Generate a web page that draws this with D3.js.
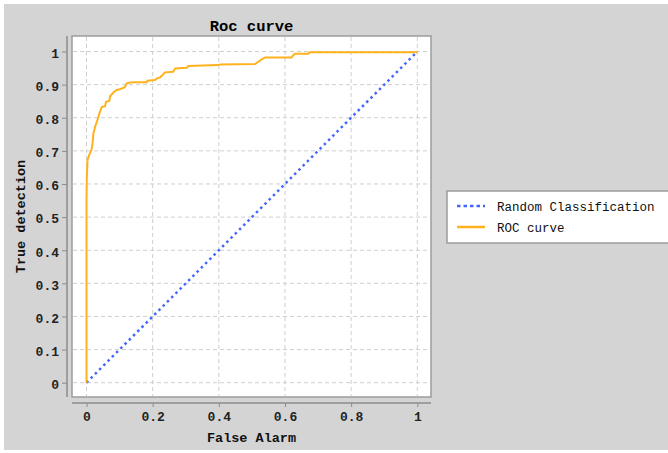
<!DOCTYPE html>
<html>
<head>
<meta charset="utf-8">
<script src="https://d3js.org/d3.v7.min.js"></script>
<style>
  body { margin: 0; background: #fff; }
  svg text { font-family: "Liberation Mono", "DejaVu Sans Mono", monospace; }
</style>
</head>
<body>
<div id="chart"></div>
<script>
// roc points
var falseAlarm = [0, 0, 0.001, 0.003, 0.008, 0.015, 0.018, 0.021, 0.026, 0.033, 0.039, 0.046, 0.056, 0.059, 0.069, 0.071, 0.081, 0.091, 0.101, 0.116, 0.121, 0.137, 0.182, 0.184, 0.207, 0.212, 0.222, 0.230, 0.237, 0.262, 0.268, 0.303, 0.308, 0.398, 0.404, 0.510, 0.519, 0.530, 0.540, 0.620, 0.625, 0.630, 0.671, 0.674, 1.0];
var trueDetection = [0, 0.55, 0.62, 0.672, 0.687, 0.703, 0.72, 0.753, 0.773, 0.793, 0.813, 0.832, 0.835, 0.848, 0.851, 0.864, 0.876, 0.884, 0.886, 0.892, 0.904, 0.907, 0.907, 0.912, 0.914, 0.918, 0.922, 0.929, 0.937, 0.939, 0.949, 0.951, 0.956, 0.959, 0.961, 0.962, 0.969, 0.976, 0.982, 0.982, 0.989, 0.993, 0.993, 0.998, 0.998];
var randomX = [0, 1];
var randomY = [0, 1];
var xTicks = [0, 0.2, 0.4, 0.6, 0.8, 1];
var yTicks = [0, 0.1, 0.2, 0.3, 0.4, 0.5, 0.6, 0.7, 0.8, 0.9, 1];
var seriesNames = ["Random Classification", "ROC curve"];
var seriesColors = ["#4466ff", "#ffb21e"];

var width = 668, height = 453;
var box = {left: 72, top: 36, right: 431, bottom: 397};

var svg = d3.select("#chart").append("svg")
  .attr("width", width)
  .attr("height", height);

svg.append("rect")
  .attr("x", 4).attr("y", 4)
  .attr("width", width - 4).attr("height", height - 7)
  .attr("fill", "#d4d4d4");

var x = d3.scaleLinear().domain([0, 1]).range([86.5, 417.3]);
var y = d3.scaleLinear().domain([0, 1]).range([382.7, 51.5]);

/* plot area */
svg.append("rect")
  .attr("x", box.left).attr("y", box.top)
  .attr("width", box.right - box.left).attr("height", box.bottom - box.top)
  .attr("fill", "#fff")
  .attr("stroke", "#9c9c9c")
  .attr("stroke-width", 1.5);

var grid = svg.append("g")
  .attr("stroke", "#cfcfcf")
  .attr("stroke-dasharray", "4,3");
grid.selectAll(".gx").data(xTicks).enter().append("line")
  .attr("x1", function(d) { return x(d); })
  .attr("x2", function(d) { return x(d); })
  .attr("y1", box.top + 1).attr("y2", box.bottom - 1);
grid.selectAll(".gy").data(yTicks).enter().append("line")
  .attr("y1", function(d) { return y(d); })
  .attr("y2", function(d) { return y(d); })
  .attr("x1", box.left + 1).attr("x2", box.right - 1);

// axes, offset from the plot box like the original
var fmt = d3.format(".1~f");
var yAxis = svg.append("g")
  .attr("transform", "translate(67,0)")
  .call(d3.axisLeft(y).tickValues(yTicks).tickFormat(fmt).tickSize(5).tickPadding(3));
var xAxis = svg.append("g")
  .attr("transform", "translate(0,403)")
  .call(d3.axisBottom(x).tickValues(xTicks).tickFormat(fmt).tickSize(4).tickPadding(5));

[yAxis, xAxis].forEach(function(a) {
  a.select(".domain").remove();
  a.selectAll(".tick line").attr("stroke", "#8c8c8c");
  a.selectAll("text")
    .attr("fill", "#222")
    .style("font-size", "13px")
    .style("font-weight", "bold");
});
yAxis.selectAll("text").attr("dy", "0.45em");

svg.append("line")
  .attr("x1", 67).attr("x2", 67)
  .attr("y1", box.top).attr("y2", box.bottom)
  .attr("stroke", "#8c8c8c").attr("stroke-width", 1.5);
svg.append("line")
  .attr("x1", box.left).attr("x2", box.right)
  .attr("y1", 403).attr("y2", 403)
  .attr("stroke", "#8c8c8c").attr("stroke-width", 1.5);

/* lines */
var line = d3.line()
  .x(function(d) { return x(d[0]); })
  .y(function(d) { return y(d[1]); });

svg.append("path")
  .datum(d3.zip(randomX, randomY))
  .attr("d", line)
  .attr("fill", "none")
  .attr("stroke", seriesColors[0])
  .attr("stroke-width", 2.5)
  .attr("stroke-dasharray", "2.5,3.5");

svg.append("path")
  .datum(d3.zip(falseAlarm, trueDetection))
  .attr("d", line)
  .attr("fill", "none")
  .attr("stroke", seriesColors[1])
  .attr("stroke-width", 2);

/* titles */
svg.append("text")
  .attr("x", (box.left + box.right) / 2)
  .attr("y", 31)
  .attr("text-anchor", "middle")
  .style("font-size", "15.5px")
  .style("font-weight", "bold")
  .text("Roc curve");

svg.append("text")
  .attr("x", (box.left + box.right) / 2)
  .attr("y", 442)
  .attr("text-anchor", "middle")
  .attr("fill", "#111")
  .style("font-size", "13.5px")
  .style("font-weight", "bold")
  .text("False Alarm");

svg.append("text")
  .attr("transform", "translate(24.5," + (box.top + box.bottom) / 2 + ") rotate(-90)")
  .attr("text-anchor", "middle")
  .attr("fill", "#111")
  .style("font-size", "13.5px")
  .style("font-weight", "bold")
  .text("True detection");

/* legend */
var legend = svg.append("g").attr("transform", "translate(447,191)");
legend.append("rect")
  .attr("width", 240).attr("height", 52)
  .attr("fill", "#fff")
  .attr("stroke", "#9c9c9c")
  .attr("stroke-width", 1.5);

var item = legend.selectAll(".item").data(seriesNames).enter().append("g")
  .attr("transform", function(d, i) { return "translate(0," + (15 + i * 21) + ")"; });
item.append("line")
  .attr("x1", 10).attr("x2", 38)
  .attr("stroke", function(d, i) { return seriesColors[i]; })
  .attr("stroke-width", function(d, i) { return i == 0 ? 2.5 : 2.5; })
  .attr("stroke-dasharray", function(d, i) { return i == 0 ? "3.5,3" : null; });
item.append("text")
  .attr("x", 50)
  .attr("y", 4.5)
  .attr("fill", "#111")
  .style("font-size", "12.5px")
  .text(function(d) { return d; });
</script>
</body>
</html>
